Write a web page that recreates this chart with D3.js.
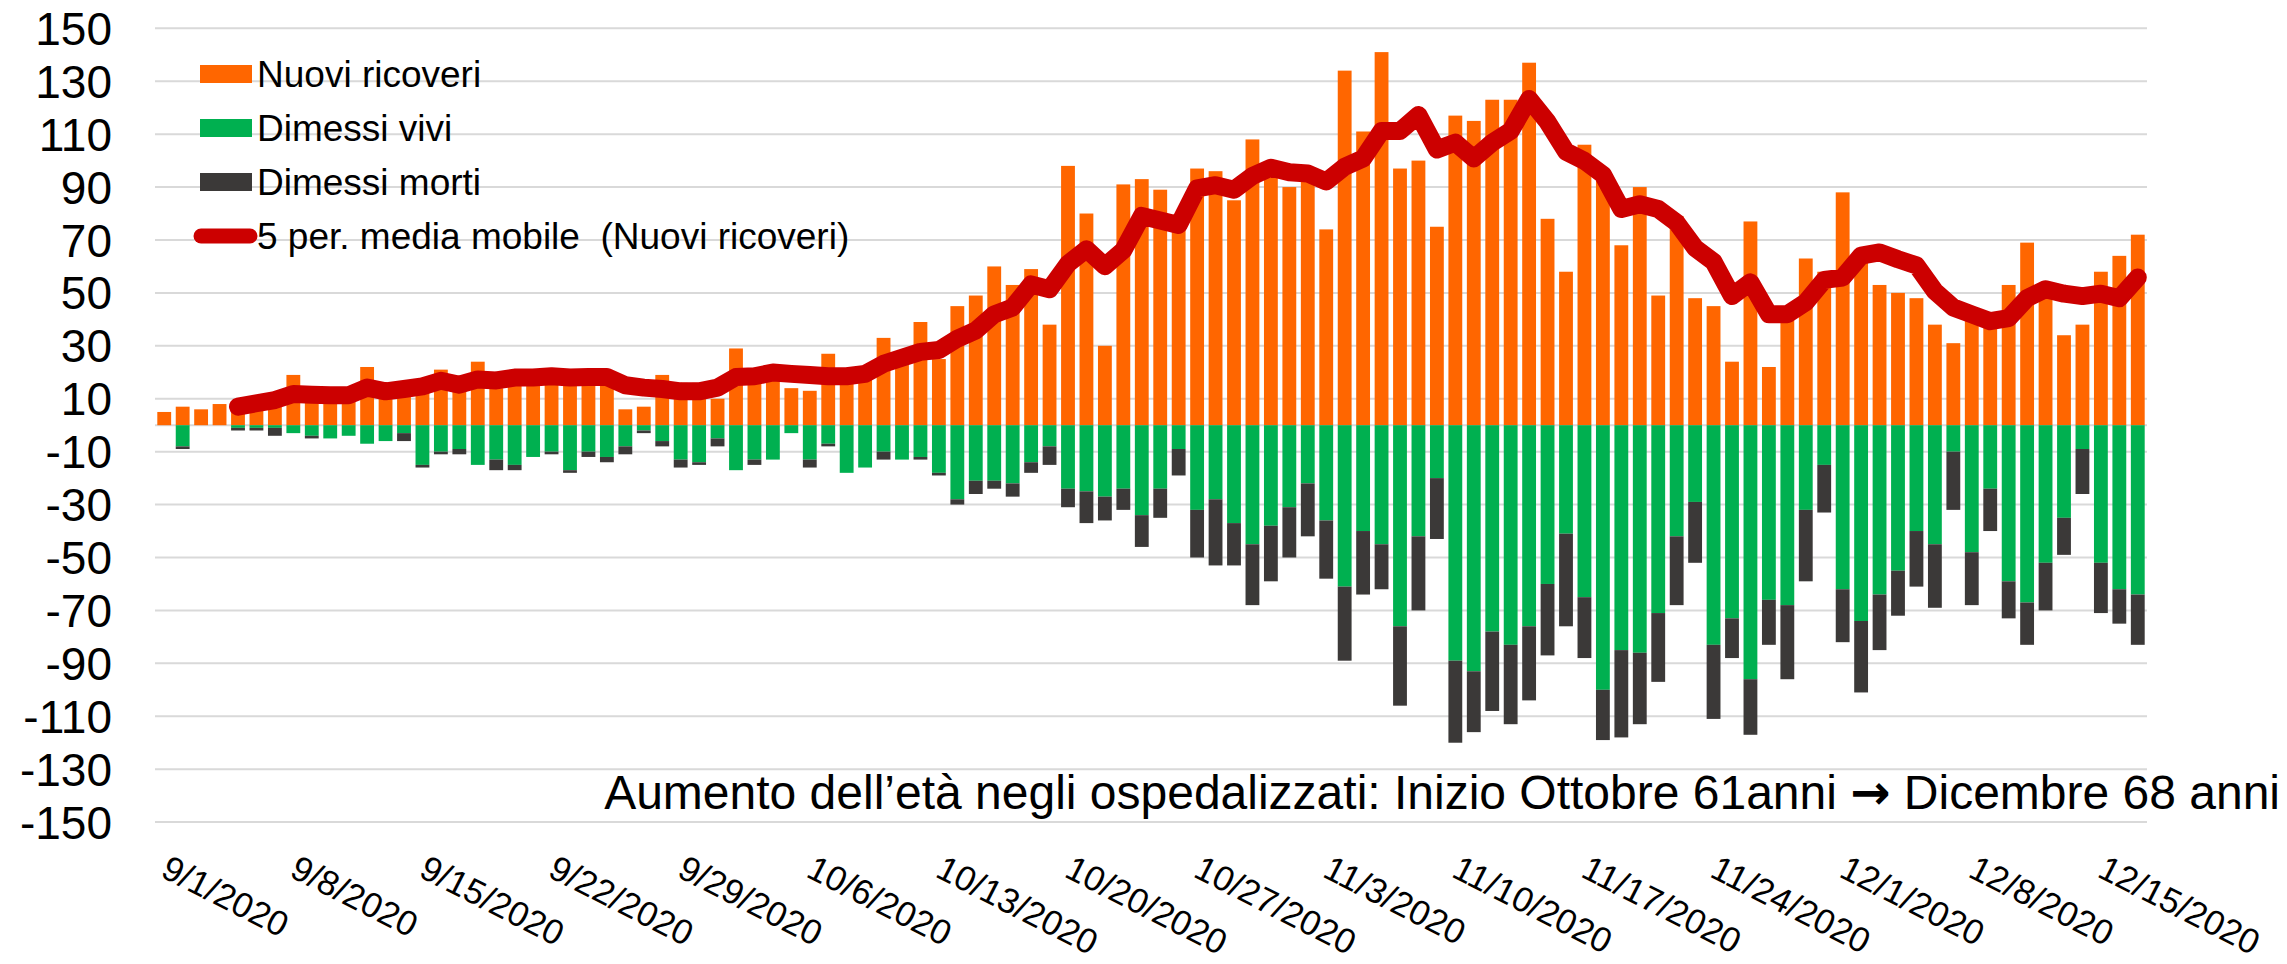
<!DOCTYPE html>
<html><head><meta charset="utf-8">
<script src="https://cdn.jsdelivr.net/npm/d3@7"></script>
<style>
body{margin:0;background:#fff}
svg{display:block}
text{font-family:"Liberation Sans",Arial,sans-serif;fill:#000;white-space:pre}
</style>
</head><body>
<svg id="chart" width="2287" height="964"></svg>
<script>
// ---------------- DATA ----------------
const dates = d3.timeDay.range(new Date(2020, 8, 1), new Date(2020, 11, 18)); // 9/1/2020 .. 12/17/2020

const nuoviRicoveri = [
  5, 7, 6, 8, 8, 9, 10, 19, 10, 9, 9, 22, 14, 14, 15, 21, 13, 24,
  14, 16, 21, 18, 21, 15, 16, 6, 7, 19, 16, 16, 10, 29, 21, 22, 14, 13,
  27, 17, 21, 33, 28, 39, 25, 45, 49, 60, 53, 59, 38, 98, 80, 30, 91, 93,
  89, 76, 97, 96, 85, 108, 99, 90, 94, 74, 134, 111, 141, 97, 100, 75, 117, 115,
  123, 123, 137, 78, 58, 106, 95, 68, 90, 49, 79, 48, 45, 24, 77, 22, 42, 63,
  58, 88, 66, 53, 50, 48, 38, 31, 42, 38, 53, 69, 53, 34, 38, 58, 64, 72
];

const dimessiVivi = [
  0, 8, 0, 0, 1, 1, 1, 3, 4, 5, 4, 7, 6, 3, 15, 10, 9, 15,
  13, 15, 12, 10, 17, 10, 12, 8, 2, 6, 13, 14, 5, 17, 13, 13, 3, 13,
  7, 18, 16, 10, 13, 12, 18, 28, 21, 21, 22, 14, 8, 24, 25, 27, 24, 34,
  24, 9, 32, 28, 37, 45, 38, 31, 22, 36, 61, 40, 45, 76, 42, 20, 89, 93,
  78, 83, 76, 60, 41, 65, 100, 85, 86, 71, 42, 29, 83, 73, 96, 66, 68, 32,
  15, 62, 74, 64, 55, 40, 45, 10, 48, 24, 59, 67, 52, 35, 9, 52, 62, 64
];

const dimessiMorti = [
  0, 1, 0, 0, 1, 1, 3, 0, 1, 0, 0, 0, 0, 3, 1, 1, 2, 0,
  4, 2, 0, 1, 1, 2, 2, 3, 1, 2, 3, 1, 3, 0, 2, 0, 0, 3,
  1, 0, 0, 3, 0, 1, 1, 2, 5, 3, 5, 4, 7, 7, 12, 9, 8, 12,
  11, 10, 18, 25, 16, 23, 21, 19, 20, 22, 28, 24, 17, 30, 28, 23, 31, 23,
  30, 30, 28, 27, 35, 23, 19, 33, 27, 26, 26, 23, 28, 15, 21, 17, 28, 27,
  18, 20, 27, 21, 17, 21, 24, 22, 20, 16, 14, 16, 18, 14, 17, 19, 13, 19
];

// 5-period moving average of "Nuovi ricoveri" (starts on the 5th day)
const mediaMobile = [
  null, null, null, null,
  7.0, 8.3, 9.5, 11.8, 11.5, 11.3, 11.3, 14.2, 12.8, 13.7, 14.7, 16.8, 15.3, 17.3,
  16.9, 18.0, 18.0, 18.5, 18.0, 18.2, 18.2, 15.1, 14.2, 13.7, 12.8, 12.8, 14.2, 18.2, 18.5, 19.9, 19.4, 19.0,
  18.5, 18.5, 19.4, 23.2, 25.5, 27.7, 28.4, 32.7, 35.8, 41.9, 44.5, 53.2, 51.4, 61.0, 66.5, 60.1, 66.1, 79.1,
  77.4, 75.7, 89.5, 90.7, 89.0, 94.2, 97.3, 95.6, 95.1, 92.1, 97.7, 100.8, 111.2, 111.2, 117.2, 104.2, 106.8, 100.8,
  106.8, 111.2, 123.3, 114.6, 103.4, 99.9, 94.7, 81.7, 83.5, 81.7, 76.5, 67.0, 61.8, 48.8, 54.0, 41.9, 41.9, 46.5,
  54.9, 55.8, 64.1, 65.3, 62.7, 60.4, 50.6, 44.5, 41.9, 39.3, 40.5, 48.0, 51.4, 49.7, 48.8, 49.7, 48.0, 55.8
];

const yTicks = [150, 130, 110, 90, 70, 50, 30, 10, -10, -30, -50, -70, -90, -110, -130, -150];

const xTickLabels = ["9/1/2020", "9/8/2020", "9/15/2020", "9/22/2020", "9/29/2020", "10/6/2020",
  "10/13/2020", "10/20/2020", "10/27/2020", "11/3/2020", "11/10/2020", "11/17/2020",
  "11/24/2020", "12/1/2020", "12/8/2020", "12/15/2020"];

const legendLabels = ["Nuovi ricoveri", "Dimessi vivi", "Dimessi morti", "5 per. media mobile  (Nuovi ricoveri)"];
const seriesColors = ["#FF6600", "#00B050", "#3B3938", "#CC0000"];

const annotationParts = ["Aumento dell\u2019età negli ospedalizzati: Inizio Ottobre 61anni ", "\u2192", " Dicembre 68 anni"];

// ---------------- CHART ----------------
const svg = d3.select("#chart");
const plot = {left: 155, right: 2147, top: 28.3, bottom: 822.1};

const x = d3.scaleBand()
  .domain(d3.range(dates.length))
  .range([plot.left, plot.right])
  .paddingInner(0.25)
  .paddingOuter(0.125);
const bw = x.bandwidth();

const y = d3.scaleLinear().domain([-150, 150]).range([plot.bottom, plot.top]);

// gridlines
svg.append("g").selectAll("line").data(yTicks).join("line")
  .attr("x1", plot.left).attr("x2", plot.right)
  .attr("y1", d => y(d)).attr("y2", d => y(d))
  .attr("stroke", "#D9D9D9").attr("stroke-width", 2);

// zero axis line
svg.append("line")
  .attr("x1", plot.left).attr("x2", plot.right)
  .attr("y1", y(0)).attr("y2", y(0))
  .attr("stroke", "#D9D9D9").attr("stroke-width", 2);

// y tick labels
svg.append("g").selectAll("text").data(yTicks).join("text")
  .attr("x", 112).attr("y", d => y(d)).attr("dy", "0.36em")
  .attr("text-anchor", "end")
  .style("font-size", "46px")
  .text(d => d);

// bars
const idx = d3.range(dates.length);
const gBars = svg.append("g");
gBars.selectAll("rect.nr").data(idx).join("rect").attr("class", "nr")
  .attr("x", i => x(i)).attr("width", bw)
  .attr("y", i => y(nuoviRicoveri[i])).attr("height", i => y(0) - y(nuoviRicoveri[i]))
  .attr("fill", seriesColors[0]);
gBars.selectAll("rect.dv").data(idx).join("rect").attr("class", "dv")
  .attr("x", i => x(i)).attr("width", bw)
  .attr("y", y(0)).attr("height", i => y(-dimessiVivi[i]) - y(0))
  .attr("fill", seriesColors[1]);
gBars.selectAll("rect.dm").data(idx).join("rect").attr("class", "dm")
  .attr("x", i => x(i)).attr("width", bw)
  .attr("y", i => y(-dimessiVivi[i])).attr("height", i => y(-(dimessiVivi[i] + dimessiMorti[i])) - y(-dimessiVivi[i]))
  .attr("fill", seriesColors[2]);

// moving average line
const line = d3.line()
  .defined(d => d != null)
  .x((d, i) => x(i) + bw / 2)
  .y(d => y(d));
svg.append("path").datum(mediaMobile)
  .attr("d", line)
  .attr("fill", "none")
  .attr("stroke", seriesColors[3])
  .attr("stroke-width", 18)
  .attr("stroke-linejoin", "round")
  .attr("stroke-linecap", "round");

// x tick labels
const fmt = d3.timeFormat("%-m/%-d/%Y");
const labelIndex = xTickLabels.map(l => dates.findIndex(d => fmt(d) === l));
svg.append("g").selectAll("text").data(xTickLabels).join("text")
  .attr("transform", (l, k) => `translate(${x(labelIndex[k]) + bw / 2 - 5},876) rotate(27)`)
  .attr("text-anchor", "start")
  .style("font-size", "35px")
  .text(l => l);

// legend
const leg = svg.append("g");
const rowY = [74, 128, 182, 236];
legendLabels.forEach((lab, k) => {
  if (k < 3) {
    leg.append("rect").attr("x", 200).attr("y", rowY[k] - 9).attr("width", 52).attr("height", 18)
      .attr("fill", seriesColors[k]);
  } else {
    leg.append("line").attr("x1", 201).attr("x2", 250).attr("y1", rowY[k]).attr("y2", rowY[k])
      .attr("stroke", seriesColors[k]).attr("stroke-width", 15).attr("stroke-linecap", "round");
  }
  leg.append("text").attr("x", 257).attr("y", rowY[k]).attr("dy", "0.36em")
    .style("font-size", "37px").text(lab);
});

// annotation
const ann = svg.append("text")
  .attr("x", 2280).attr("y", 809)
  .attr("text-anchor", "end")
  .style("font-size", "48px");
ann.selectAll("tspan").data(annotationParts).join("tspan")
  .style("font-family", (d, i) => i === 1 ? "'DejaVu Sans', sans-serif" : null)
  .style("font-weight", (d, i) => i === 1 ? "bold" : null)
  .text(d => d);
</script>
</body></html>
